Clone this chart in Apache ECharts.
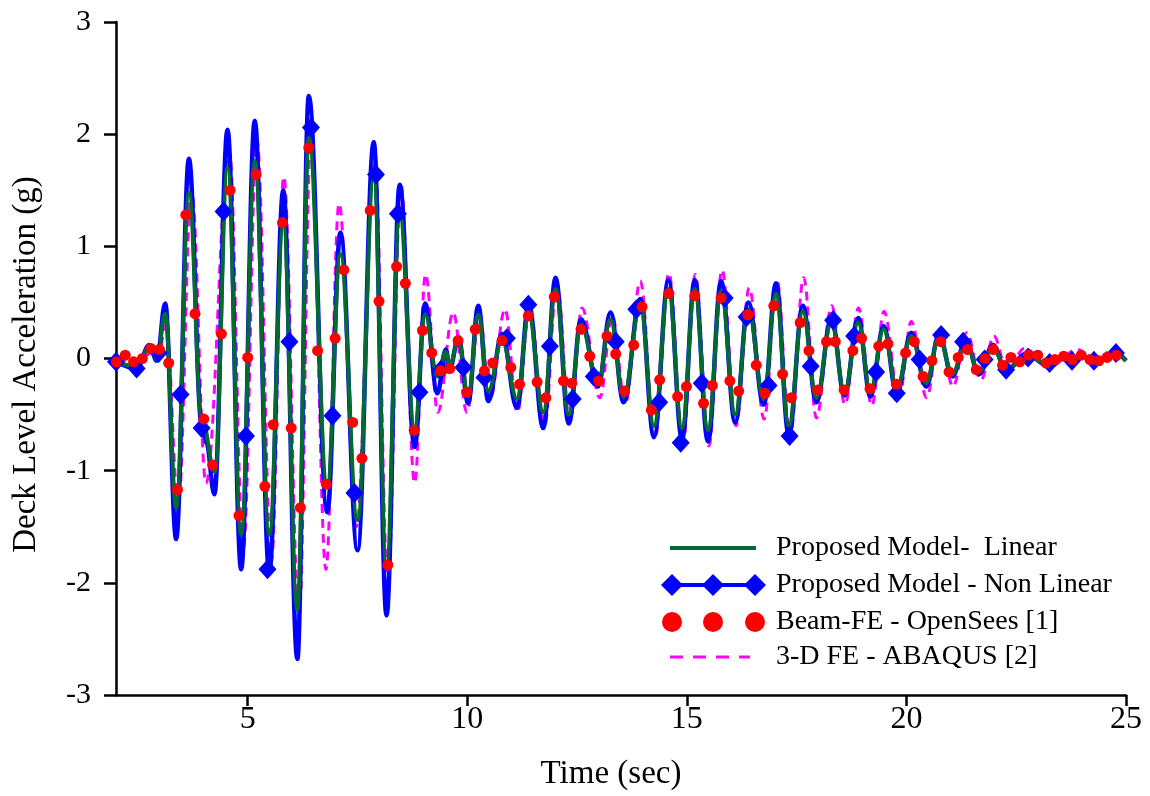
<!DOCTYPE html>
<html>
<head>
<meta charset="utf-8">
<script src="https://cdn.jsdelivr.net/npm/echarts@6/dist/echarts.min.js"></script>
<style>
html,body{margin:0;padding:0;background:#fff;}
#chart{width:1150px;height:796px;}
</style>
</head>
<body>
<div id="chart"></div>
<script>
// ---- data (time in sec, acceleration in g) ----
const xTicks = [5, 10, 15, 20, 25];
const yTicks = [-3, -2, -1, 0, 1, 2, 3];

const seriesNames = [
  'Proposed Model-  Linear',
  'Proposed Model - Non Linear',
  'Beam-FE - OpenSees [1]',
  '3-D FE - ABAQUS [2]'
];

// Proposed Model - Non Linear (peaks / troughs)
const nonLinear = [
  [2.02,-0.03],[2.47,-0.09],[2.76,0.12],[2.93,-0.02],[3.12,0.49],[3.37,-1.61],[3.66,1.78],
  [3.95,-0.58],[4.06,-0.75],[4.24,-1.21],[4.54,2.04],[4.85,-1.88],[5.16,2.12],[5.49,-1.91],
  [5.81,1.50],[6.13,-2.68],[6.39,2.34],[6.81,-1.37],[7.11,1.12],[7.50,-1.71],[7.87,1.93],
  [8.16,-2.29],[8.46,1.55],[8.80,-0.79],[9.04,0.49],[9.32,-0.31],[9.51,0.08],[9.60,-0.09],
  [9.80,0.19],[10.02,-0.40],[10.25,0.47],[10.48,-0.38],[10.79,0.22],[11.13,-0.44],[11.40,0.48],
  [11.73,-0.62],[12.01,0.72],[12.31,-0.58],[12.59,0.35],[12.98,-0.25],[13.26,0.41],[13.56,-0.39],
  [13.94,0.53],[14.25,-0.70],[14.58,0.70],[14.89,-0.72],[15.18,0.70],[15.48,-0.74],[15.78,0.69],
  [16.10,-0.57],[16.40,0.50],[16.75,-0.41],[17.03,0.67],[17.32,-0.68],[17.64,0.47],[17.95,-0.39],
  [18.29,0.36],[18.59,-0.33],[18.90,0.36],[19.18,-0.34],[19.48,0.29],[19.78,-0.31],[20.11,0.23],
  [20.45,-0.25],[20.74,0.21],[21.05,-0.16],[21.35,0.17],[21.65,-0.14],[21.97,0.12],[22.27,-0.11],
  [22.72,0.04],[23.26,-0.07],[23.56,0.01],[23.79,-0.05],[24.01,0.02],[24.28,-0.04],[24.77,0.05],
  [25.0,-0.02]
];

// marker positions on the Non Linear curve
const nonLinearMarks = [
  [2.00,-0.03],[2.47,-0.09],[2.97,0.05],[3.47,-0.32],[3.95,-0.62],[4.45,1.31],[4.96,-0.69],
  [5.45,-1.88],[5.95,0.15],[6.44,2.06],[6.93,-0.51],[7.43,-1.20],[7.92,1.64],[8.42,1.29],
  [8.91,-0.30],[9.40,-0.10],[9.91,-0.08],[10.39,-0.17],[10.90,0.18],[11.39,0.48],[11.88,0.11],
  [12.40,-0.36],[12.88,-0.16],[13.38,0.15],[13.85,0.44],[14.37,-0.39],[14.86,-0.75],[15.34,-0.22],
  [15.86,0.54],[16.36,0.37],[16.86,-0.24],[17.34,-0.69],[17.82,-0.07],[18.33,0.34],[18.81,0.20],
  [19.31,-0.12],[19.78,-0.31],[20.30,-0.01],[20.79,0.21],[21.29,0.15],[21.78,-0.01],[22.27,-0.10],
  [22.77,0.01],[23.26,-0.04],[23.77,-0.02],[24.27,-0.02],[24.77,0.05]
];

// Proposed Model - Linear (peaks / troughs)
const linear = [
  [2.02,-0.03],[2.47,-0.07],[2.76,0.10],[2.93,-0.01],[3.12,0.40],[3.37,-1.33],[3.66,1.48],
  [3.95,-0.52],[4.25,-1.01],[4.54,1.70],[4.85,-1.57],[5.16,1.76],[5.49,-1.57],[5.81,1.19],
  [6.13,-2.24],[6.39,1.97],[6.81,-1.13],[7.11,0.93],[7.50,-1.44],[7.87,1.61],[8.16,-1.84],
  [8.46,1.29],[8.80,-0.62],[9.04,0.39],[9.32,-0.16],[9.51,0.06],[9.60,-0.06],[9.80,0.17],
  [10.02,-0.34],[10.25,0.39],[10.48,-0.29],[10.79,0.17],[11.13,-0.36],[11.40,0.39],[11.73,-0.48],
  [12.01,0.62],[12.31,-0.50],[12.59,0.30],[12.98,-0.22],[13.26,0.35],[13.56,-0.34],[13.94,0.48],
  [14.25,-0.60],[14.58,0.62],[14.89,-0.62],[15.18,0.62],[15.48,-0.64],[15.78,0.60],[16.10,-0.50],
  [16.40,0.44],[16.75,-0.36],[17.03,0.58],[17.32,-0.60],[17.64,0.42],[17.95,-0.35],[18.29,0.32],
  [18.59,-0.30],[18.90,0.32],[19.18,-0.30],[19.48,0.26],[19.78,-0.27],[20.11,0.20],[20.45,-0.22],
  [20.74,0.19],[21.05,-0.14],[21.35,0.15],[21.65,-0.12],[21.97,0.10],[22.27,-0.10],[22.72,0.03],
  [23.26,-0.06],[23.56,0.01],[23.79,-0.04],[24.01,0.02],[24.28,-0.03],[24.77,0.04],[25.0,-0.02]
];

// Beam-FE - OpenSees [1] (sample points)
const openSees = [
  [2.01,-0.03],[2.21,0.03],[2.40,-0.03],[2.60,0.00],[2.79,0.09],[2.99,0.08],[3.20,-0.04],
  [3.40,-1.17],[3.59,1.28],[3.80,0.40],[4.00,-0.54],[4.20,-0.95],[4.40,0.22],[4.60,1.50],
  [4.80,-1.40],[5.00,0.01],[5.19,1.64],[5.39,-1.14],[5.58,-0.59],[5.79,1.21],[5.99,-0.62],
  [6.20,-1.33],[6.39,1.88],[6.59,0.07],[6.79,-1.12],[6.99,0.18],[7.19,0.79],[7.39,-0.57],
  [7.60,-0.89],[7.79,1.32],[7.99,0.51],[8.19,-1.84],[8.39,0.82],[8.59,0.67],[8.79,-0.64],
  [8.98,0.25],[9.19,0.05],[9.39,-0.11],[9.60,-0.09],[9.79,0.16],[9.99,-0.30],[10.18,0.26],
  [10.39,-0.11],[10.58,-0.04],[10.79,0.16],[10.99,-0.08],[11.19,-0.23],[11.39,0.38],[11.59,-0.21],
  [11.79,-0.35],[11.98,0.55],[12.19,-0.20],[12.38,-0.22],[12.59,0.26],[12.79,0.02],[12.99,-0.20],
  [13.18,0.20],[13.38,0.04],[13.58,-0.29],[13.79,0.12],[13.98,0.46],[14.19,-0.46],[14.38,-0.19],
  [14.59,0.58],[14.79,-0.34],[14.99,-0.25],[15.18,0.56],[15.38,-0.40],[15.58,-0.24],[15.78,0.54],
  [15.98,-0.20],[16.18,-0.29],[16.39,0.39],[16.58,-0.06],[16.78,-0.31],[16.98,0.47],[17.18,-0.14],
  [17.38,-0.35],[17.58,0.32],[17.78,0.07],[17.98,-0.28],[18.18,0.15],[18.38,0.15],[18.58,-0.28],
  [18.78,0.07],[18.98,0.18],[19.17,-0.27],[19.37,0.11],[19.58,0.13],[19.77,-0.23],[19.98,0.05],
  [20.18,0.15],[20.38,-0.16],[20.58,-0.02],[20.78,0.15],[20.97,-0.12],[21.18,0.01],[21.39,0.08],
  [21.59,-0.10],[21.79,0.00],[21.98,0.08],[22.19,-0.06],[22.38,0.01],[22.58,-0.03],[22.78,0.03],
  [22.99,0.03],[23.18,-0.04],[23.38,-0.01],[23.58,0.02],[23.78,-0.01],[23.98,0.03],[24.18,-0.01],
  [24.38,-0.02],[24.57,0.01],[24.78,0.03]
];

// 3-D FE - ABAQUS [2] (peaks / troughs)
const abaqus = [
  [2.02,0.00],[2.50,-0.03],[2.80,0.05],[2.95,0.00],[3.14,0.30],[3.42,-1.30],[3.72,1.50],
  [4.05,-1.11],[4.58,1.85],[4.90,-1.70],[5.21,1.95],[5.54,-1.80],[5.82,1.62],[6.17,-2.30],
  [6.44,2.00],[6.78,-1.88],[7.08,1.38],[7.47,-1.50],[7.89,1.85],[8.19,-2.00],[8.49,1.55],
  [8.80,-1.11],[9.05,0.75],[9.33,-0.48],[9.68,0.41],[9.99,-0.48],[10.28,0.38],[10.52,-0.36],
  [10.86,0.44],[11.14,-0.48],[11.42,0.45],[11.76,-0.60],[12.04,0.66],[12.34,-0.56],[12.61,0.45],
  [13.02,-0.35],[13.30,0.38],[13.60,-0.40],[13.94,0.69],[14.27,-0.72],[14.59,0.76],[14.91,-0.76],
  [15.19,0.75],[15.50,-0.78],[15.80,0.79],[16.12,-0.60],[16.42,0.63],[16.76,-0.54],[17.05,0.70],
  [17.35,-0.70],[17.66,0.72],[17.95,-0.53],[18.30,0.47],[18.60,-0.41],[18.91,0.45],[19.21,-0.42],
  [19.49,0.42],[19.83,-0.35],[20.11,0.33],[20.46,-0.35],[20.75,0.23],[21.06,-0.25],[21.37,0.23],
  [21.70,-0.19],[21.99,0.20],[22.30,-0.12],[22.68,0.09],[23.27,-0.07],[23.90,0.08],[24.30,-0.04],
  [24.62,0.06],[24.92,-0.05]
];

// ---- chart ----
const FONT = 'Liberation Serif';
const chart = echarts.init(document.getElementById('chart'), null, {renderer: 'canvas'});

const legendX0 = 670, legendX1 = 756, legendTextX = 776;
const rowY = [548, 585, 622, 657];
const graphics = [];
// row 1: green line
graphics.push({type:'line', shape:{x1:legendX0, y1:rowY[0], x2:legendX1, y2:rowY[0]}, style:{stroke:'#036B32', lineWidth:4}, z:100});
// row 2: blue line with diamonds
graphics.push({type:'line', shape:{x1:legendX0, y1:rowY[1], x2:legendX1, y2:rowY[1]}, style:{stroke:'#0000FF', lineWidth:4}, z:100});
[672, 713, 755].forEach(function (cx) {
  graphics.push({type:'polygon', shape:{points:[[cx-11,rowY[1]],[cx,rowY[1]-11],[cx+11,rowY[1]],[cx,rowY[1]+11]]}, style:{fill:'#0000FF'}, z:101});
});
// row 3: red dots
[672, 713, 755].forEach(function (cx) {
  graphics.push({type:'circle', shape:{cx:cx, cy:rowY[2], r:10}, style:{fill:'#FF0000'}, z:101});
});
// row 4: magenta dashes
graphics.push({type:'line', shape:{x1:legendX0, y1:rowY[3], x2:legendX1-6, y2:rowY[3]}, style:{stroke:'#FF00FF', lineWidth:3, lineDash:[13,10]}, z:100});
seriesNames.forEach(function (nm, i) {
  graphics.push({type:'text', x:legendTextX, y:rowY[i], style:{text:nm, font:'28px "' + FONT + '"', fill:'#000', textVerticalAlign:'middle', textAlign:'left'}, z:100});
});

const option = {
  animation: false,
  backgroundColor: '#fff',
  grid: {left: 116, right: 24, top: 22, bottom: 100, containLabel: false},
  xAxis: {
    type: 'value', min: 2, max: 25,
    name: 'Time (sec)', nameLocation: 'middle', nameGap: 63,
    nameTextStyle: {fontFamily: FONT, fontSize: 33, color: '#000', padding: [0, 20, 0, 0]},
    axisLine: {show: true, onZero: false, lineStyle: {color: '#000', width: 2.5}},
    axisTick: {show: true, inside: false, length: 11, customValues: xTicks, lineStyle: {color: '#000', width: 2.5}},
    axisLabel: {show: true, customValues: xTicks, margin: 9, fontFamily: FONT, fontSize: 32, color: '#000'},
    splitLine: {show: false}
  },
  yAxis: {
    type: 'value', min: -3, max: 3, interval: 1,
    name: 'Deck Level Acceleration (g)', nameLocation: 'middle', nameGap: 73,
    nameTextStyle: {fontFamily: FONT, fontSize: 33, color: '#000', padding: [0, 12, 0, 0]},
    axisLine: {show: true, onZero: false, lineStyle: {color: '#000', width: 2.5}},
    axisTick: {show: true, inside: false, length: 12, lineStyle: {color: '#000', width: 2.5}},
    axisLabel: {show: true, margin: 25, fontFamily: FONT, fontSize: 30, color: '#000'},
    splitLine: {show: false}
  },
  graphic: graphics,
  series: [
    {
      name: seriesNames[3], type: 'line', data: abaqus,
      smooth: 0.38, smoothMonotone: 'x', showSymbol: false, z: 2,
      lineStyle: {color: '#FF00FF', width: 3, type: [9, 6]}
    },
    {
      name: seriesNames[1], type: 'line', data: nonLinear,
      smooth: 0.38, smoothMonotone: 'x', showSymbol: false, z: 3,
      lineStyle: {color: '#0000FF', width: 4.5}
    },
    {
      name: seriesNames[0], type: 'line', data: linear,
      smooth: 0.38, smoothMonotone: 'x', showSymbol: false, z: 4,
      lineStyle: {color: '#036B32', width: 4}
    },
    {
      name: seriesNames[1] + ' markers', type: 'scatter', data: nonLinearMarks,
      symbol: 'diamond', symbolSize: [18, 20], z: 5,
      itemStyle: {color: '#0000FF', opacity: 1}
    },
    {
      name: seriesNames[2], type: 'scatter', data: openSees,
      symbol: 'circle', symbolSize: 11, z: 6,
      itemStyle: {color: '#FF0000', opacity: 1}
    }
  ]
};
chart.setOption(option);
</script>
</body>
</html>
